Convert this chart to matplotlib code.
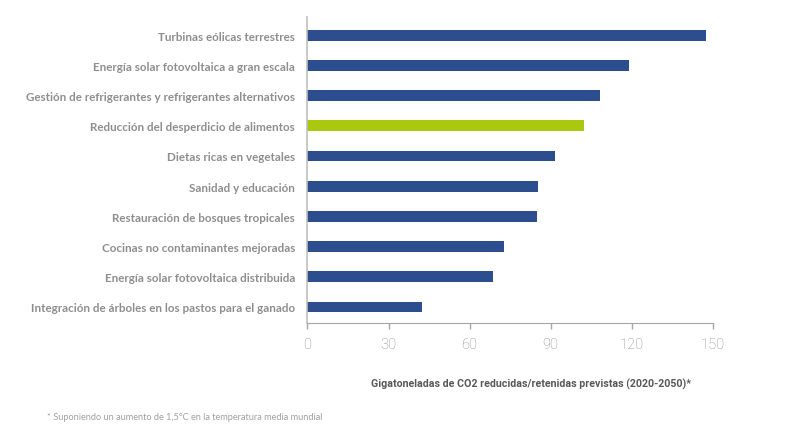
import matplotlib
matplotlib.use("Agg")
import matplotlib.pyplot as plt

# soluciones, de arriba a abajo
labels = [
    "Turbinas eólicas terrestres",
    "Energía solar fotovoltaica a gran escala",
    "Gestión de refrigerantes y refrigerantes alternativos",
    "Reducción del desperdicio de alimentos",
    "Dietas ricas en vegetales",
    "Sanidad y educación",
    "Restauración de bosques tropicales",
    "Cocinas no contaminantes mejoradas",
    "Energía solar fotovoltaica distribuida",
    "Integración de árboles en los pastos para el ganado",
]
values = [147.7, 119.1, 108.3, 102.2, 91.7, 85.4, 85.1, 72.7, 68.6, 42.3]
highlight = "Reducción del desperdicio de alimentos"
xticks = [0, 30, 60, 90, 120, 150]

blue = "#2c4d8e"
green = "#aac80f"
grey_txt = "#8e8e8e"

fig = plt.figure(figsize=(7.9, 4.39), dpi=100)
ax = fig.add_axes([0.3892, 0.262, 0.5129, 0.697])

n = len(labels)
ypos = list(range(n - 1, -1, -1))
colors = [green if l == highlight else blue for l in labels]
ax.barh(ypos, values, height=0.36, color=colors)

ax.set_xlim(0, 150)
ax.set_ylim(-0.53, n - 1 + 0.6)
ax.set_xticks(xticks)
ax.set_xticklabels([str(t) for t in xticks], fontsize=10.5, color="#8c8c8c",
                   family=["Roboto", "DejaVu Sans"], fontweight="light")
ax.tick_params(axis="x", length=4, width=1, color="#a6a6a6", pad=6)
ax.set_yticks(ypos)
ax.set_yticklabels(labels, fontsize=8.4, color=grey_txt,
                   family=["Lato", "DejaVu Sans"], fontweight="bold")
ax.tick_params(axis="y", length=0, pad=9)

for s in ["top", "right"]:
    ax.spines[s].set_visible(False)
ax.spines["left"].set_color("#bfbfbf")
ax.spines["bottom"].set_color("#a6a6a6")
ax.spines["left"].set_linewidth(1.2)

fig.text(0.672, 0.125, "Gigatoneladas de CO2 reducidas/retenidas previstas (2020-2050)*",
         ha="center", va="center", fontsize=7.7, color="#595959", fontweight="bold",
         family=["Roboto", "DejaVu Sans"])
fig.text(0.059, 0.048, "* Suponiendo un aumento de 1,5°C en la temperatura media mundial",
         ha="left", va="center", fontsize=6.6, color="#a0a0a0",
         family=["Lato", "DejaVu Sans"])

fig.savefig("out.png", dpi=100)
